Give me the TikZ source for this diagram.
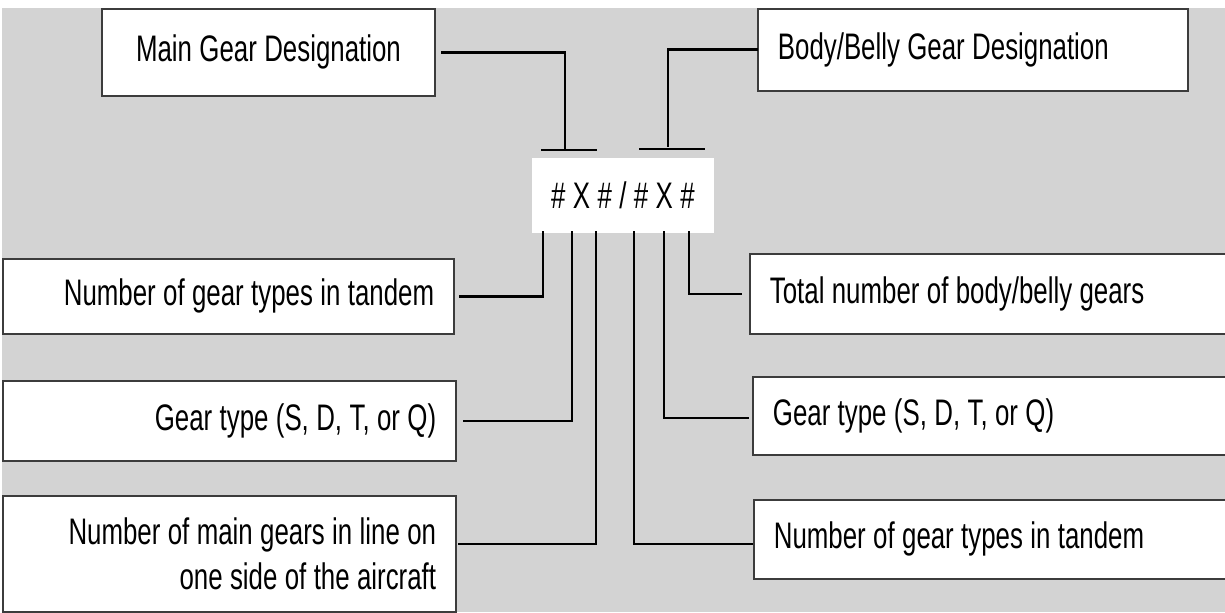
\documentclass[tikz,border=0pt]{standalone}
\usepackage{fontspec}
\setmainfont[FakeStretch=0.70]{Liberation Sans}
\usepackage{tikz}
\definecolor{bggray}{RGB}{211,211,211}
\definecolor{boxline}{RGB}{60,60,60}
\newcommand{\boxfont}{\fontsize{10.5pt}{12.8pt}\selectfont\spaceskip=2.1pt plus 0pt minus 0pt\relax}
\tikzset{
  box/.style={draw=boxline, fill=white, line width=0.5pt, anchor=north west,
    inner xsep=0.2cm, inner ysep=0pt, font=\boxfont},
  link/.style={line width=0.8pt, line cap=rect}
}

\begin{document}
\begin{tikzpicture}[x=0.01cm, y=-0.01cm]
\useasboundingbox (0,0) rectangle (1225,612);
\fill[bggray] (2,8) rectangle (1225,612);

% designation code in the middle
\node[box, draw=none, inner sep=0pt, minimum width=1.82cm, minimum height=0.75cm] (code) at (531,157) {\# X \# / \# X \#};

% top boxes
\node[box, text width=2.93cm, minimum height=0.87cm, align=flush center] (maingear) at (101,8) {Main Gear Designation};
\node[box, text width=3.90cm, minimum height=0.82cm, align=flush left] (bodygear) at (757,8) {Body/Belly Gear Designation};

% left boxes
\node[box, text width=4.11cm, minimum height=0.75cm, align=flush right] (ltandem) at (2,258) {Number of gear types in tandem};
\node[box, text width=4.13cm, minimum height=0.80cm, align=flush right] (ltype) at (2,380) {Gear type (S, D, T, or Q)};
\node[box, text width=4.13cm, minimum height=1.16cm, align=flush right] (lmain) at (2,495) {Number of main gears in line on\\one side of the aircraft};

% right boxes
\node[box, text width=4.51cm, minimum height=0.80cm, align=flush left] (rtotal) at (749,253) {Total number of body/belly gears};
\node[box, text width=4.48cm, minimum height=0.78cm, align=flush left] (rtype) at (752,376) {Gear type (S, D, T, or Q)};
\node[box, text width=4.47cm, minimum height=0.79cm, align=flush left] (rtandem) at (753,499) {Number of gear types in tandem};

% tee marks above the code
\coordinate (mtee) at (565,150);
\coordinate (btee) at (668,146);
\draw[link] ([xshift=0.06cm]maingear.east) -| (mtee);
\draw[link] ([xshift=-0.23cm]mtee) -- ([xshift=0.31cm]mtee);
\draw[link] (bodygear.west) -| (btee);
\draw[link] ([xshift=-0.28cm,yshift=-0.03cm]btee) -- ([xshift=0.36cm,yshift=-0.03cm]btee);

% legs below the code
\coordinate (leg1) at (543,232);
\coordinate (leg2) at (572,232);
\coordinate (leg3) at (596,232);
\coordinate (leg4) at (634,232);
\coordinate (leg5) at (664,232);
\coordinate (leg6) at (689,232);

\draw[link] (leg1) |- ([xshift=0.05cm]ltandem.east);
\draw[link] (leg2) |- ([xshift=0.07cm]ltype.east);
\draw[link] (leg3) |- ([xshift=0.02cm,yshift=0.1cm]lmain.east);
\draw[link] (leg6) |- ([xshift=-0.08cm]rtotal.west);
\draw[link] (leg5) |- ([xshift=-0.04cm,yshift=-0.02cm]rtype.west);
\draw[link] (leg4) |- ([xshift=-0.01cm,yshift=-0.045cm]rtandem.west);
\end{tikzpicture}
\end{document}
